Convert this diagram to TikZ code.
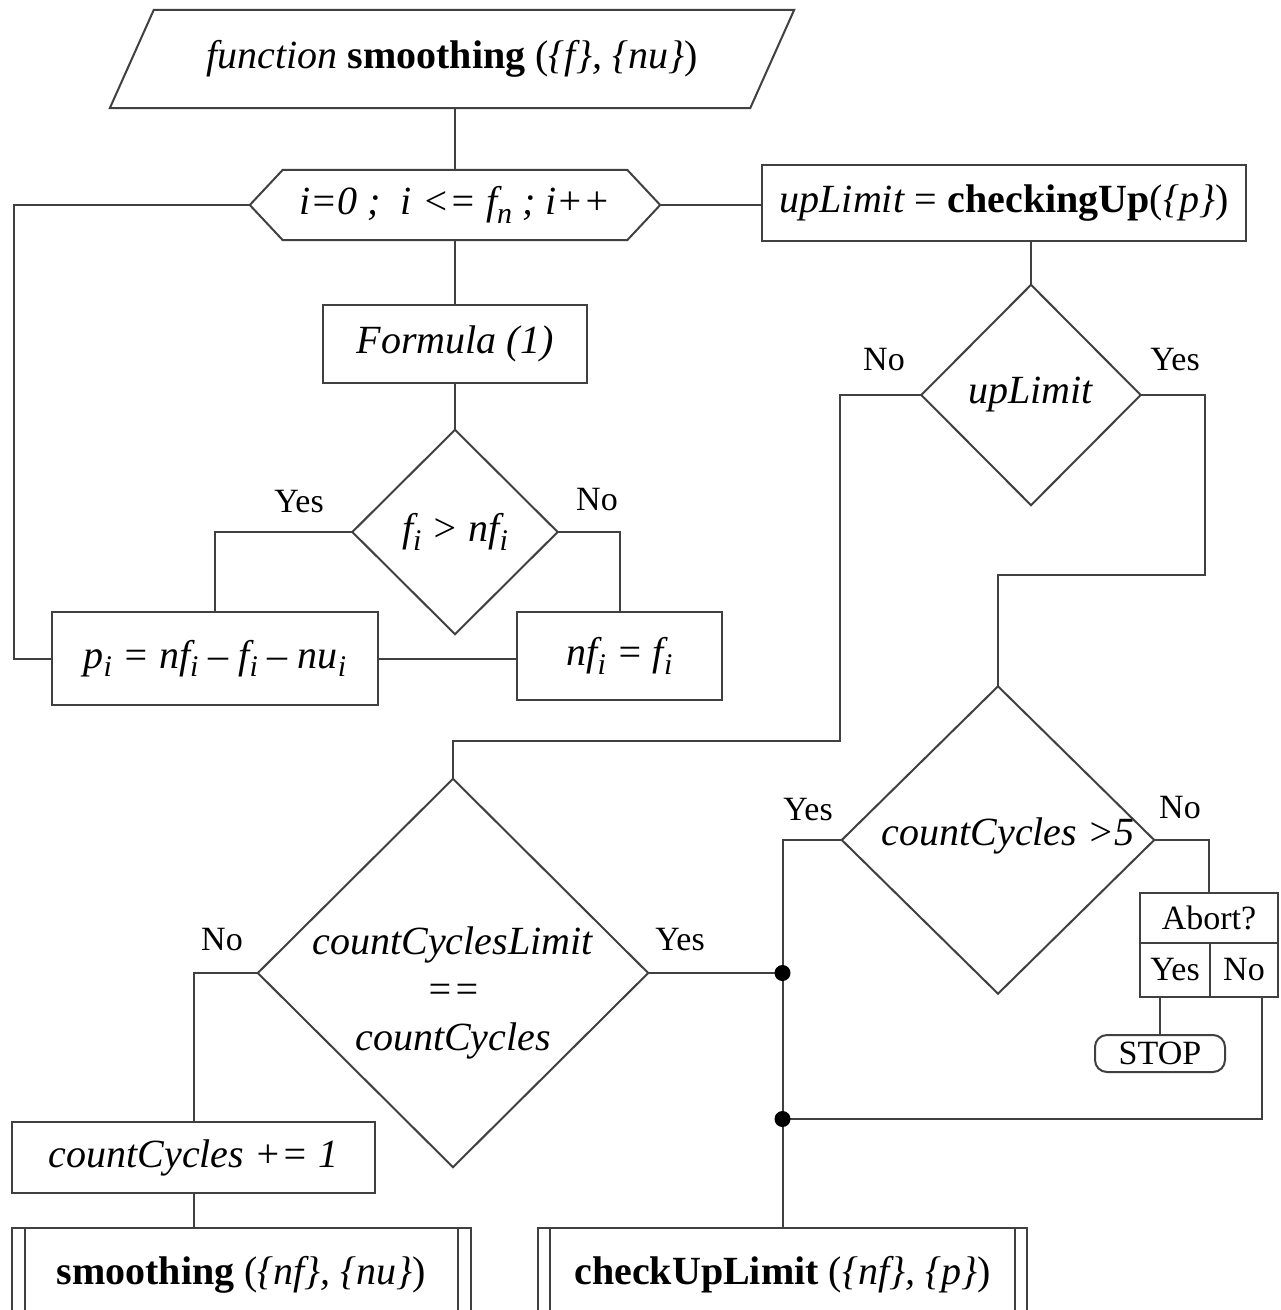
\documentclass[tikz,border=0pt]{standalone}
\usepackage{fontspec}
\setmainfont{Liberation Serif}
\usetikzlibrary{calc}
\newcommand\subx[1]{\raisebox{-0.45ex}{\fontsize{30}{30}\selectfont #1}}
\tikzset{
  ln/.style={draw=black!75, line width=2pt},
  txt/.style={font=\fontsize{40}{48}\selectfont, inner sep=0pt, align=center},
  boxn/.style={txt, ln, rectangle},
  hid/.style={txt, draw=none, rectangle},
  lbl/.style={font=\fontsize{34}{40}\selectfont, inner sep=0pt},
  cell/.style={ln, rectangle, font=\fontsize{34}{40}\selectfont, inner sep=0pt},
  dotn/.style={circle, fill=black, inner sep=0pt, minimum size=16pt},
}
\begin{document}
\begin{tikzpicture}[x=1pt, y=-1pt]
\useasboundingbox (0,0) rectangle (1281,1310);
\fill[white] (0,0) rectangle (1281,1310);
\clip (0,0) rectangle (1281,1310);

% start parallelogram
\node[hid, minimum width=640pt, minimum height=98pt] (start) at (452,59)
  {\textit{function} \textbf{smoothing} (\textit{\{f\}, \{nu\}})};
\draw[ln] ([xshift=22pt]start.north west) -- ([xshift=22pt]start.north east)
  -- ([xshift=-22pt]start.south east) -- ([xshift=-22pt]start.south west) -- cycle;

% loop hexagon
\node[hid, minimum width=410pt, minimum height=70pt] (hex) at (455,205)
  {\textit{i=0 ;\ \ i <= f\subx{n} ; i++}};
\draw[ln] (hex.west) -- ([xshift=33pt]hex.north west) -- ([xshift=-33pt]hex.north east)
  -- (hex.east) -- ([xshift=-33pt]hex.south east) -- ([xshift=33pt]hex.south west) -- cycle;

\node[boxn, minimum width=484pt, minimum height=76pt] (up) at (1004,203)
  {\textit{upLimit} = \textbf{checkingUp}(\textit{\{p\}})};

\node[boxn, minimum width=264pt, minimum height=78pt] (formula) at (455,344)
  {\textit{Formula (1)}};

% diamond f_i > nf_i
\node[hid, minimum width=205pt, minimum height=204pt] (d1) at (455,532)
  {\textit{f\subx{i} > nf\subx{i}}};
\draw[ln] (d1.north) -- (d1.east) -- (d1.south) -- (d1.west) -- cycle;

\node[boxn, minimum width=326pt, minimum height=93pt] (p) at (215,658.5)
  {\textit{p\subx{i} = nf\subx{i} – f\subx{i} – nu\subx{i}}};
\node[boxn, minimum width=205pt, minimum height=88pt] (nf) at (619.5,656)
  {\textit{nf\subx{i} = f\subx{i}}};

% diamond upLimit
\node[hid, minimum width=219pt, minimum height=220pt] (d2) at (1031,395)
  {\textit{upLimit}};
\draw[ln] (d2.north) -- (d2.east) -- (d2.south) -- (d2.west) -- cycle;

% diamond countCycles > 5
\node[hid, minimum width=312pt, minimum height=307pt] (d3) at (998,840) {};
\node[txt] (d3t) at (1008,836) {\textit{countCycles >5}};
\draw[ln] (d3.north) -- (d3.east) -- (d3.south) -- (d3.west) -- cycle;

% diamond countCyclesLimit
\node[hid, minimum width=390pt, minimum height=388pt] (d4) at (453,973) {};
\node[txt] (d4t) at (453,993)
  {\textit{countCyclesLimit}\\[0pt] \textit{==}\\[0pt] \textit{countCycles}};
\draw[ln] (d4.north) -- (d4.east) -- (d4.south) -- (d4.west) -- cycle;

% abort table
\node[cell, minimum width=138pt, minimum height=50pt] (abort) at (1209,918) {Abort?};
\node[cell, minimum width=70pt, minimum height=54pt] (ay) at (1175,970) {Yes};
\node[cell, minimum width=68pt, minimum height=54pt] (an) at (1244,970) {No};
\node[cell, rounded corners=12pt, minimum width=130pt, minimum height=37pt] (stop) at (1160,1053.5) {STOP};

\node[boxn, minimum width=363pt, minimum height=71pt] (cc) at (193.5,1157.5)
  {\textit{countCycles += 1}};

% subroutine boxes
\node[boxn, minimum width=459pt, minimum height=94pt] (smooth) at (241.5,1275)
  {\textbf{smoothing} (\textit{\{nf\}, \{nu\}})};
\draw[ln] ([xshift=14pt]smooth.north west) -- ([xshift=14pt]smooth.south west);
\draw[ln] ([xshift=-14pt]smooth.north east) -- ([xshift=-14pt]smooth.south east);
\node[boxn, minimum width=489pt, minimum height=94pt] (check) at (782.5,1275)
  {\textbf{checkUpLimit} (\textit{\{nf\}, \{p\}})};
\draw[ln] ([xshift=13pt]check.north west) -- ([xshift=13pt]check.south west);
\draw[ln] ([xshift=-13pt]check.north east) -- ([xshift=-13pt]check.south east);

% labels
\node[lbl] (l1) at (299,502) {Yes};
\node[lbl] (l2) at (597,500) {No};
\node[lbl] (l3) at (884,360) {No};
\node[lbl] (l4) at (1175,360) {Yes};
\node[lbl] (l5) at (808,810) {Yes};
\node[lbl] (l6) at (1180,808) {No};
\node[lbl] (l7) at (222,940) {No};
\node[lbl] (l8) at (680,940) {Yes};

% connectors
\draw[ln] (hex.north |- start.south) -- (hex.north);
\draw[ln] (hex.east) -- (hex.east -| up.west);
\draw[ln] (hex.west) -| ([xshift=-37pt]p.west) -- (p.west);
\draw[ln] (hex.south) -- (formula.north);
\draw[ln] (formula.south) -- (d1.north);
\draw[ln] (d1.west) -| (p.north);
\draw[ln] (d1.east) -| (nf.north);
\draw[ln] (p.east) -- (p.east -| nf.west);
\draw[ln] (d2.north |- up.south) -- (d2.north);
\draw[ln] (d2.west) -| ++(-81,346) -| (d4.north);
\draw[ln] (d2.east) -| ++(64,180) -| (d3.north);
\coordinate (j1) at (check.north |- d4.east);
\coordinate (j2) at ([yshift=108pt]check.north);
\draw[ln] (d3.west) -| (check.north);
\draw[ln] (d4.east) -- (j1);
\draw[ln] ([xshift=18pt]an.south) |- (j2);
\draw[ln] (d3.east) -| (abort.north);
\draw[ln] (stop.north |- ay.south) -- (stop.north);
\draw[ln] (d4.west) -| (cc.north);
\draw[ln] (cc.south) -- (cc.south |- smooth.north);
\node[dotn] (dot1) at (j1) {};
\node[dotn] (dot2) at (j2) {};
\end{tikzpicture}
\end{document}
